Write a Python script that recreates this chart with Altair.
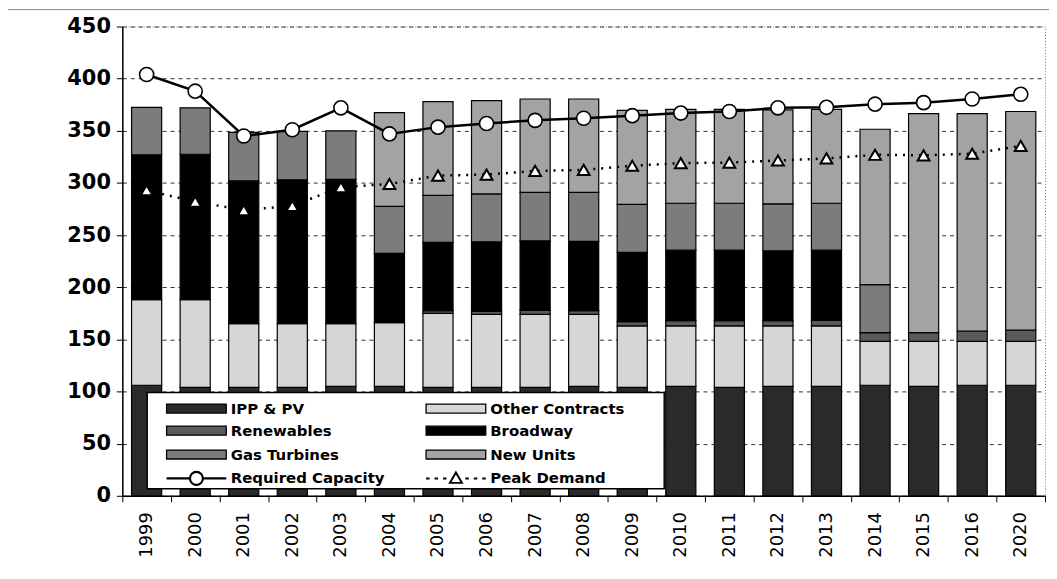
import altair as alt
import pandas as pd

# ---- data ----
years = ["1999", "2000", "2001", "2002", "2003", "2004", "2005", "2006", "2007", "2008",
         "2009", "2010", "2011", "2012", "2013", "2014", "2015", "2016", "2020"]
ipp_pv = [106, 104, 104, 104, 105, 105, 104, 104, 104, 105, 104, 105, 104, 105, 105, 106, 105, 106, 106]
other_contracts = [82, 84, 61, 61, 60, 61, 71, 70, 70, 69, 59, 58, 59, 58, 58, 42, 43, 42, 42]
renewables = [0, 0, 0, 0, 0, 0, 2.5, 3, 4, 3.5, 4, 5, 5, 5, 5.5, 8.5, 8.5, 10, 11]
broadway = [139, 139.5, 137, 138, 138.5, 66.5, 65.5, 66.5, 66.5, 66.5, 66.5, 67.5, 67.5, 67, 67, 0, 0, 0, 0]
gas_turbines = [45.5, 44.5, 46.5, 46.5, 46.5, 45, 45, 46, 46.5, 47, 46, 45, 45, 45, 45, 46, 0, 0, 0]
new_units = [0, 0, 0, 0, 0, 90, 90, 89.5, 89.5, 89.5, 90, 90, 90, 90, 90, 149, 210, 208.5, 209.5]
required_capacity = [404, 388, 345, 351, 372, 347, 353.5, 357, 360, 362, 364.5, 367, 368.5, 372, 372.5,
                     375.5, 377, 380.5, 385]
peak_demand = [293, 282, 274, 278, 296, 299, 307, 308, 311.5, 312.5, 316.5, 319, 319.5, 321.5, 323.5,
               327, 326.5, 328, 335.5]

sources = ["IPP & PV", "Other Contracts", "Renewables", "Broadway", "Gas Turbines", "New Units"]
# legend fills column by column: left column first, then right column
legend_domain = ["IPP & PV", "Renewables", "Gas Turbines", "Required Capacity",
                 "Other Contracts", "Broadway", "New Units", "Peak Demand"]
fills = ["#2a2a2a", "#5a5a5a", "#7c7c7c", "#ffffff",
         "#d6d6d6", "#000000", "#a3a3a3", "#ffffff"]
y_ticks = [0, 50, 100, 150, 200, 250, 300, 350, 400, 450]

series = [ipp_pv, other_contracts, renewables, broadway, gas_turbines, new_units]
rows = []
for i, yr in enumerate(years):
    for k, (src, arr) in enumerate(zip(sources, series)):
        rows.append({"Year": yr, "Source": src, "value": arr[i], "order": k})
bars_df = pd.DataFrame(rows)
lines_df = pd.DataFrame({"Year": years, "Required": required_capacity, "Peak": peak_demand})

# ---- legend symbol shapes ----
rect_path = "M-1,-0.9H11V0.9H-1Z"
req_path = "M-1,0H3.7M6.3,0H11M3.7,0A1.3,1.3 0 1,0 6.3,0A1.3,1.3 0 1,0 3.7,0Z"
peak_path = ("M-1,0H-0.3M0.7,0H1.4M2.4,0H3.1M6.9,0H7.6M8.6,0H9.3M10.3,0H11"
             "M5,-1.2L6.2,0.9L3.8,0.9Z")
shape_expr = ("datum.value === 'Required Capacity' ? '" + req_path + "' : "
              "datum.value === 'Peak Demand' ? '" + peak_path + "' : '" + rect_path + "'")
sw_expr = ("datum.value === 'Required Capacity' ? 2.2 : "
           "datum.value === 'Peak Demand' ? 2 : 1.3")

FONT = "DejaVu Sans"

x_enc = alt.X("Year:N", sort=years, title=None,
              scale=alt.Scale(paddingInner=0, paddingOuter=0),
              axis=alt.Axis(labelAngle=270, tickBand="extent", labelFont=FONT, labelFontSize=18,
                            labelColor="black", labelPadding=10, tickSize=6, tickColor="black",
                            domainColor="black", domainWidth=1.5, grid=False))
y_scale = alt.Scale(domain=[0, 450], nice=False)
y_axis = alt.Axis(values=y_ticks, grid=True, gridDash=[4, 4], gridColor="#333333", gridWidth=1,
                  domainColor="black", domainWidth=1.5, tickColor="black", tickSize=6,
                  labelFont=FONT, labelFontSize=21, labelFontWeight="bold", labelColor="black",
                  labelPadding=6)

frame = alt.Chart(alt.Data(values=[{}])).mark_rect(fill="transparent", stroke="#8a8a8a", strokeWidth=1).encode(
    x=alt.value(-120), x2=alt.value(940), y=alt.value(-17), y2=alt.value(548))

bars = alt.Chart(bars_df).transform_filter("datum.value > 0").mark_bar(
    stroke="black", strokeWidth=1.2, width={"band": 0.62}
).encode(
    x=x_enc,
    y=alt.Y("value:Q", stack="zero", scale=y_scale, axis=y_axis, title=None),
    fill=alt.Fill("Source:N", scale=alt.Scale(domain=legend_domain, range=fills),
                  legend=alt.Legend(
                      title=None, orient="none", legendX=42, legendY=375, columns=2,
                      gridAlign="all", columnPadding=37, rowPadding=1, symbolSize=100,
                      labelOffset=52, labelFont=FONT, labelFontSize=15, labelFontWeight="bold",
                      labelColor="black", labelLimit=400, padding=0,
                      symbolType=alt.ExprRef(expr=shape_expr),
                      symbolStrokeColor="black",
                      symbolStrokeWidth=alt.ExprRef(expr=sw_expr),
                      symbolOpacity=1)),
    order=alt.Order("order:Q", sort="ascending"),
)

legend_box = alt.Chart(alt.Data(values=[{}])).mark_rect(fill="white", stroke="black", strokeWidth=1.5).encode(
    x=alt.value(25), x2=alt.value(545), y=alt.value(368), y2=alt.value(465))

req_line = alt.Chart(lines_df).mark_line(color="black", strokeWidth=2.5).encode(
    x=alt.X("Year:N", sort=years), y=alt.Y("Required:Q", scale=y_scale, title=None))
req_pts = alt.Chart(lines_df).mark_point(shape="circle", filled=True, fill="white", stroke="black",
                                         strokeWidth=1.6, size=200, opacity=1).encode(
    x=alt.X("Year:N", sort=years), y=alt.Y("Required:Q", scale=y_scale, title=None))
peak_line = alt.Chart(lines_df).mark_line(color="black", strokeWidth=2.5, strokeDash=[2, 6]).encode(
    x=alt.X("Year:N", sort=years), y=alt.Y("Peak:Q", scale=y_scale, title=None))
peak_pts = alt.Chart(lines_df).mark_point(shape="triangle-up", filled=True, fill="white", stroke="black",
                                          strokeWidth=2, size=140, opacity=1).encode(
    x=alt.X("Year:N", sort=years), y=alt.Y("Peak:Q", scale=y_scale, title=None))

chart = alt.layer(frame, bars, legend_box, req_line, peak_line, req_pts, peak_pts).properties(
    width=928, height=472,
    padding={"left": 115, "top": 17, "right": 4, "bottom": 70},
    autosize=alt.AutoSizeParams(type="none"),
    background="white",
).configure_view(stroke="#777777", strokeDash=[1, 2], strokeWidth=1)

chart.save("out.html", embed_options={"renderer": "svg", "actions": False})
